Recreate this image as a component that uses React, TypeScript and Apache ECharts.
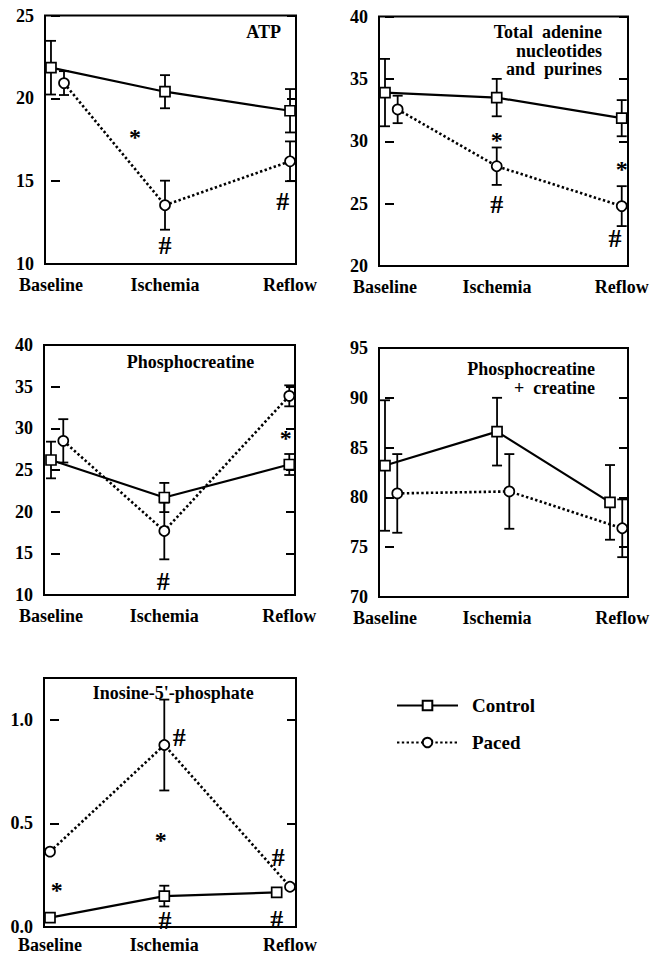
import React, { useEffect, useRef } from "react";
import * as echarts from "echarts";

const FONT = '"Liberation Serif", "Times New Roman", Times, serif';

const categories = ["Baseline", "Ischemia", "Reflow"];
const groups = ["Control", "Paced"];

// ATP
const atpControl = [21.85, 20.4, 19.25];
const atpControlSE = [1.62, 1.0, 1.31];
const atpPaced = [20.92, 13.55, 16.2];
const atpPacedSE = [0.72, 1.48, 1.2];
const atpTicks = [10, 15, 20, 25];
const atpMarks: [string, number, number][] = [
  ["*", 0.703, 17.97],
  ["#", 0.954, 11.15],
  ["#", 1.94, 13.86],
];

// Total adenine nucleotides and purines
const tanControl = [33.9, 33.5, 31.85];
const tanControlSE = [2.7, 1.5, 1.45];
const tanPaced = [32.55, 28.0, 24.8];
const tanPacedSE = [1.1, 1.5, 1.6];
const tanTicks = [20, 25, 30, 35, 40];
const tanMarks: [string, number, number][] = [
  ["*", 0.944, 30.5],
  ["#", 0.944, 25.03],
  ["*", 2.0, 28.15],
  ["#", 1.943, 22.3],
];

// Phosphocreatine
const pcrControl = [26.2, 21.7, 25.66];
const pcrControlSE = [2.2, 1.75, 1.26];
const pcrPaced = [28.5, 17.68, 33.9];
const pcrPacedSE = [2.6, 3.4, 1.26];
const pcrTicks = [10, 15, 20, 25, 30, 35, 40];
const pcrMarks: [string, number, number][] = [
  ["*", 1.97, 29.5],
  ["#", 0.943, 11.8],
];

// Phosphocreatine + creatine
const tcrControl = [83.2, 86.6, 79.5];
const tcrControlSE = [6.55, 3.4, 3.75];
const tcrPaced = [80.4, 80.6, 76.9];
const tcrPacedSE = [3.95, 3.75, 2.9];
const tcrTicks = [70, 75, 80, 85, 90, 95];
const tcrMarks: [string, number, number][] = [];

// Inosine-5'-phosphate
const impControl = [0.045, 0.149, 0.167];
const impControlSE = [0, 0.05, 0];
const impPaced = [0.363, 0.877, 0.194];
const impPacedSE = [0, 0.219, 0];
const impTicks = [0, 0.5, 1.0];
const impMax = 1.2;
const impMarks: [string, number, number][] = [
  ["#", 1.078, 0.92],
  ["*", 0.9225, 0.443],
  ["*", 0.056, 0.202],
  ["#", 1.9025, 0.339],
  ["#", 1.889, 0.042],
  ["#", 0.958, 0.036],
];

type Panel = {
  control: number[];
  controlSE: number[];
  paced: number[];
  pacedSE: number[];
  ticks: number[];
  yMax?: number;
  decimals: number;
  marks: [string, number, number][];
  box: { left: number; top: number; width: number; height: number };
  xMin: number;
  xMax: number;
  controlX: number[];
  pacedX: number[];
  labelX: number[];
  labelMargin: number;
  titleLines: string[];
  titleX: number;
  titleY: number;
  titleAlign: "left" | "center" | "right";
};

const panels: Panel[] = [
  {
    control: atpControl, controlSE: atpControlSE, paced: atpPaced, pacedSE: atpPacedSE,
    ticks: atpTicks, decimals: 0, marks: atpMarks,
    box: { left: 45, top: 15.5, width: 251, height: 248.5 },
    xMin: -0.05, xMax: 2.05,
    controlX: [0, 0.954, 2], pacedX: [0.109, 0.954, 2], labelX: [0, 0.954, 2], labelMargin: 12,
    titleLines: ["ATP"], titleX: 281, titleY: 32, titleAlign: "right",
  },
  {
    control: tanControl, controlSE: tanControlSE, paced: tanPaced, pacedSE: tanPacedSE,
    ticks: tanTicks, decimals: 0, marks: tanMarks,
    box: { left: 379, top: 16.5, width: 249, height: 249.5 },
    xMin: -0.0507, xMax: 2.053,
    controlX: [0, 0.944, 2], pacedX: [0.107, 0.944, 2], labelX: [0, 0.946, 2], labelMargin: 12,
    titleLines: ["Total  adenine", "nucleotides", "and  purines"], titleX: 602, titleY: 32, titleAlign: "right",
  },
  {
    control: pcrControl, controlSE: pcrControlSE, paced: pcrPaced, pacedSE: pcrPacedSE,
    ticks: pcrTicks, decimals: 0, marks: pcrMarks,
    box: { left: 44, top: 345, width: 251, height: 250 },
    xMin: -0.0588, xMax: 2.048,
    controlX: [0, 0.951, 2], pacedX: [0.103, 0.951, 2], labelX: [0, 0.951, 2], labelMargin: 12,
    titleLines: ["Phosphocreatine"], titleX: 190.5, titleY: 361.7, titleAlign: "center",
  },
  {
    control: tcrControl, controlSE: tcrControlSE, paced: tcrPaced, pacedSE: tcrPacedSE,
    ticks: tcrTicks, decimals: 0, marks: tcrMarks,
    box: { left: 379, top: 348, width: 249, height: 249 },
    xMin: -0.0533, xMax: 2.16,
    controlX: [0, 0.996, 2], pacedX: [0.109, 1.105, 2.109], labelX: [0, 0.996, 2.109], labelMargin: 12,
    titleLines: ["Phosphocreatine", "+  creatine"], titleX: 595, titleY: 369.3, titleAlign: "right",
  },
  {
    control: impControl, controlSE: impControlSE, paced: impPaced, pacedSE: impPacedSE,
    ticks: impTicks, yMax: impMax, decimals: 1, marks: impMarks,
    box: { left: 44, top: 678, width: 252, height: 249 },
    xMin: -0.05, xMax: 2.05,
    controlX: [0, 0.9525, 1.889], pacedX: [0, 0.9525, 2], labelX: [0, 0.9525, 2], labelMargin: 9,
    titleLines: ["Inosine-5'-phosphate"], titleX: 173.3, titleY: 693.3, titleAlign: "center",
  },
];

function errorRender(params: any, api: any) {
  const x = api.value(0);
  const lo = api.coord([x, api.value(1)]);
  const hi = api.coord([x, api.value(2)]);
  const hw = 5;
  const style = { stroke: "#000", lineWidth: 1.8 };
  return {
    type: "group",
    children: [
      { type: "line", shape: { x1: lo[0], y1: lo[1], x2: hi[0], y2: hi[1] }, style },
      { type: "line", shape: { x1: lo[0] - hw, y1: lo[1], x2: lo[0] + hw, y2: lo[1] }, style },
      { type: "line", shape: { x1: hi[0] - hw, y1: hi[1], x2: hi[0] + hw, y2: hi[1] }, style },
    ],
  };
}

function buildOption() {
  const grid: any[] = [];
  const xAxis: any[] = [];
  const yAxis: any[] = [];
  const series: any[] = [];
  const graphic: any[] = [];

  panels.forEach((p, i) => {
    grid.push({
      ...p.box,
      show: true,
      borderColor: "#000",
      borderWidth: 2,
      backgroundColor: "transparent",
      containLabel: false,
      outerBoundsMode: "none",
    });
    xAxis.push({
      type: "value",
      gridIndex: i,
      min: p.xMin,
      max: p.xMax,
      axisLine: { show: false },
      axisTick: { show: false },
      splitLine: { show: false },
      axisLabel: {
        customValues: p.labelX,
        margin: p.labelMargin,
        fontFamily: FONT,
        fontWeight: "bold",
        fontSize: 18,
        color: "#000",
        formatter: (v: number) => {
          const idx = p.labelX.findIndex((x) => Math.abs(x - v) < 1e-6);
          return idx >= 0 ? categories[idx] : "";
        },
      },
    });
    const yMin = p.ticks[0];
    const yMax = p.yMax ?? p.ticks[p.ticks.length - 1];
    const interval = p.ticks[1] - p.ticks[0];
    const yBase = {
      type: "value",
      gridIndex: i,
      min: yMin,
      max: yMax,
      interval,
      axisLine: { show: false },
      splitLine: { show: false },
      axisTick: { show: true, inside: true, length: 9, lineStyle: { color: "#000", width: 2 } },
    };
    yAxis.push({
      ...yBase,
      position: "left",
      axisLabel: {
        margin: 11,
        fontFamily: FONT,
        fontWeight: "bold",
        fontSize: 18,
        color: "#000",
        formatter: (v: number) =>
          p.ticks.some((t) => Math.abs(t - v) < 1e-9) ? v.toFixed(p.decimals) : "",
      },
    });
    yAxis.push({ ...yBase, position: "right", axisLabel: { show: false } });

    const yi = i * 2;
    const errData = (xs: number[], m: number[], se: number[]) =>
      xs
        .map((x, k) => [x, m[k] - se[k], m[k] + se[k], se[k]])
        .filter((d) => d[3] > 0)
        .map((d) => [d[0], d[1], d[2]]);

    series.push({
      type: "custom",
      name: "Control error",
      xAxisIndex: i,
      yAxisIndex: yi,
      renderItem: errorRender,
      encode: { x: 0, y: [1, 2] },
      data: errData(p.controlX, p.control, p.controlSE),
      z: 1,
      silent: true,
    });
    series.push({
      type: "custom",
      name: "Paced error",
      xAxisIndex: i,
      yAxisIndex: yi,
      renderItem: errorRender,
      encode: { x: 0, y: [1, 2] },
      data: errData(p.pacedX, p.paced, p.pacedSE),
      z: 1,
      silent: true,
    });
    series.push({
      type: "line",
      name: groups[0],
      xAxisIndex: i,
      yAxisIndex: yi,
      data: p.controlX.map((x, k) => [x, p.control[k]]),
      symbol: "rect",
      symbolSize: 10,
      showAllSymbol: true,
      lineStyle: { color: "#000", width: 2.2, type: "solid" },
      itemStyle: { color: "#fff", borderColor: "#000", borderWidth: 1.7 },
      z: 3,
      silent: true,
    });
    series.push({
      type: "line",
      name: groups[1],
      xAxisIndex: i,
      yAxisIndex: yi,
      data: p.pacedX.map((x, k) => [x, p.paced[k]]),
      symbol: "circle",
      symbolSize: 10,
      showAllSymbol: true,
      lineStyle: { color: "#000", width: 2.6, type: [2.4, 2.4] },
      itemStyle: { color: "#fff", borderColor: "#000", borderWidth: 1.7 },
      z: 2,
      silent: true,
    });
    if (p.marks.length) {
      const common = {
        color: "#000",
        opacity: 1,
        textBorderWidth: 0,
        textBorderColor: "rgba(0,0,0,0)",
        textShadowBlur: 0,
        fontWeight: "bold",
      };
      series.push({
        type: "scatter",
        name: "Significance",
        xAxisIndex: i,
        yAxisIndex: yi,
        data: p.marks.map((m) => ({
          name: m[0],
          value: [m[1], m[2]],
          label:
            m[0] === "#"
              ? { ...common, fontSize: 26, offset: [0, 1] }
              : { ...common, fontSize: 24, offset: [0, 5] },
        })),
        symbol: "circle",
        symbolSize: 1,
        itemStyle: { color: "#000", borderWidth: 0, opacity: 1 },
        label: {
          show: true,
          position: "inside",
          formatter: (d: any) => d.name,
          fontFamily: FONT,
          ...common,
        },
        z: 4,
        silent: true,
      });
    }

    p.titleLines.forEach((line, k) => {
      graphic.push({
        type: "text",
        x: p.titleX,
        y: p.titleY + k * 18.5,
        style: {
          text: line,
          fill: "#000",
          font: `bold 18px ${FONT}`,
          align: p.titleAlign,
          verticalAlign: "middle",
        },
        silent: true,
      });
    });
  });

  return {
    animation: false,
    backgroundColor: "#fff",
    grid,
    xAxis,
    yAxis,
    series,
    graphic,
    legend: {
      data: groups,
      orient: "vertical",
      left: 391,
      top: 691,
      itemWidth: 61,
      itemHeight: 12,
      itemGap: 18,
      selectedMode: false,
      textStyle: {
        fontFamily: FONT,
        fontWeight: "bold",
        fontSize: 19,
        color: "#000",
        padding: [0, 0, 0, 9],
      },
    },
  };
}

export default function App() {
  const ref = useRef<HTMLDivElement>(null);
  useEffect(() => {
    if (!ref.current) return;
    const chart = echarts.init(ref.current, null, { renderer: "svg" });
    chart.setOption(buildOption() as any);
    return () => chart.dispose();
  }, []);
  return (
    <div
      ref={ref}
      style={{ position: "fixed", left: 0, top: 0, width: 650, height: 956, background: "#fff" }}
    />
  );
}
